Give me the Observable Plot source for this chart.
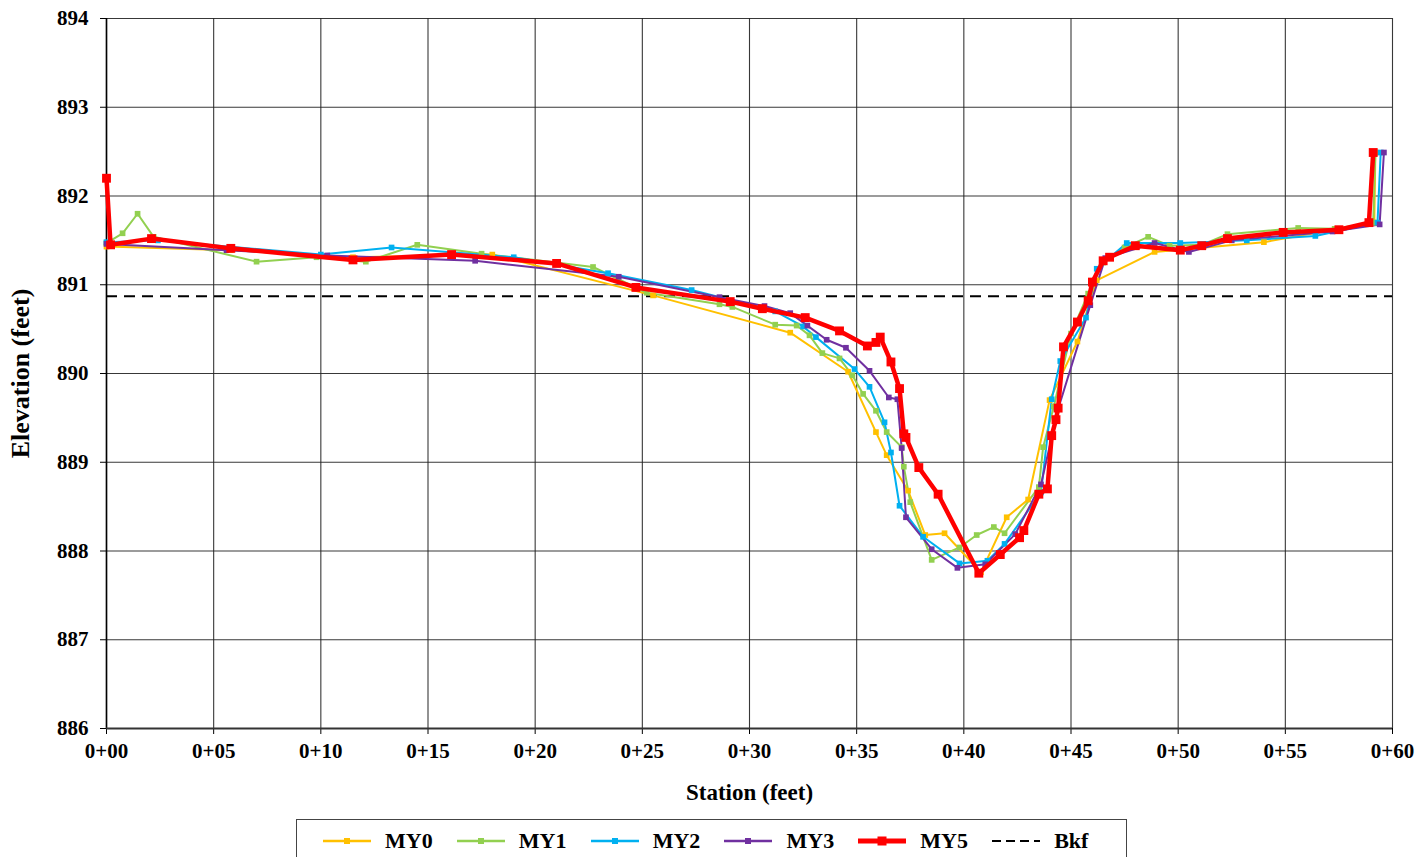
<!DOCTYPE html>
<html>
<head>
<meta charset="utf-8">
<script src="https://cdn.jsdelivr.net/npm/d3@7"></script>
<script src="https://cdn.jsdelivr.net/npm/@observablehq/plot@0.6"></script>
<style>
  html, body { margin: 0; padding: 0; background: #fff; overflow: hidden; }
  body { width: 1416px; height: 857px; font-family: "Liberation Serif", "Times New Roman", serif; }
  #chart svg { display: block; }
  #legend {
    position: absolute; left: 296px; top: 819px; width: 831px; height: 44px;
    border: 1px solid #444; box-sizing: border-box; background: #fff;
    display: flex; align-items: center; padding-left: 26px;
    font-family: "Liberation Serif", serif; font-weight: bold; font-size: 22px;
  }
  .item { display: flex; align-items: center; width: 138px; }
  .item svg { margin-right: 12px; }
</style>
</head>
<body>
<div id="chart"></div>
<div id="legend"></div>
<script>
// ---- data (station in feet, elevation in feet) ----
const my0Station = [0, 5.8, 11.5, 18.0, 25.5, 31.9, 34.6, 35.9, 36.4, 37.4, 38.2, 39.1, 40.8, 42.0, 43.0, 44.0, 45.3, 46.2, 48.9, 54.0, 59.15, 59.2];
const my0Elev    = [891.43, 891.39, 891.31, 891.34, 890.88, 890.46, 890.02, 889.34, 889.08, 888.68, 888.18, 888.20, 887.76, 888.38, 888.58, 889.70, 890.36, 891.05, 891.37, 891.48, 891.70, 892.49];

const my1Station = [0, 0.75, 1.45, 2.2, 7.0, 9.8, 12.1, 14.5, 17.5, 22.7, 25.2, 28.6, 29.2, 31.2, 32.2, 32.8, 33.4, 34.2, 34.8, 35.3, 35.9, 36.4, 37.1, 37.2, 37.5, 38.5, 39.8, 40.6, 41.4, 41.9, 43.5, 43.7, 44.2, 45.0, 45.8, 46.5, 47.5, 48.6, 49.6, 51.1, 52.3, 55.6, 57.3, 59.1, 59.2];
const my1Elev    = [891.47, 891.58, 891.80, 891.54, 891.26, 891.31, 891.26, 891.45, 891.35, 891.20, 890.91, 890.78, 890.75, 890.55, 890.54, 890.43, 890.23, 890.17, 889.98, 889.77, 889.58, 889.34, 889.17, 888.95, 888.55, 887.90, 888.04, 888.18, 888.27, 888.20, 888.72, 889.17, 889.63, 890.45, 890.90, 891.25, 891.42, 891.54, 891.44, 891.45, 891.57, 891.64, 891.63, 891.70, 892.49];

const my2Station = [0, 2.4, 10.0, 13.3, 19.0, 23.4, 27.3, 31.2, 32.5, 33.1, 34.9, 35.6, 36.3, 36.6, 37.0, 38.1, 39.8, 41.1, 41.9, 43.6, 44.1, 44.5, 45.7, 46.2, 47.6, 50.1, 53.2, 56.4, 59.3, 59.45];
const my2Elev    = [891.48, 891.50, 891.34, 891.42, 891.31, 891.13, 890.94, 890.70, 890.53, 890.41, 890.05, 889.85, 889.45, 889.11, 888.51, 888.16, 887.86, 887.89, 888.08, 888.66, 889.71, 890.14, 890.63, 891.18, 891.47, 891.47, 891.50, 891.55, 891.70, 892.49];

const my3Station = [0, 5.6, 10.3, 17.2, 23.9, 28.6, 30.7, 31.9, 32.7, 33.6, 34.5, 35.6, 36.5, 36.9, 37.1, 37.3, 38.5, 39.7, 41.0, 42.4, 43.6, 44.4, 45.9, 46.6, 48.9, 50.5, 52.5, 57.2, 59.4, 59.6];
const my3Elev    = [891.46, 891.39, 891.33, 891.27, 891.09, 890.86, 890.76, 890.68, 890.54, 890.38, 890.29, 890.03, 889.73, 889.71, 889.16, 888.38, 888.02, 887.81, 887.85, 888.19, 888.75, 889.60, 890.77, 891.30, 891.47, 891.37, 891.50, 891.60, 891.68, 892.49];

const my5Station = [0, 0.19, 2.1, 5.8, 11.5, 16.1, 21.0, 24.7, 29.1, 30.6, 32.6, 34.2, 35.5, 35.9, 36.1, 36.6, 37.0, 37.2, 37.3, 37.9, 38.8, 40.7, 41.7, 42.6, 42.8, 43.5, 43.9, 44.1, 44.3, 44.4, 44.65, 45.3, 45.8, 46.0, 46.5, 46.8, 48.0, 50.1, 51.1, 52.3, 54.9, 57.5, 58.9, 59.1];
const my5Elev    = [892.20, 891.45, 891.52, 891.41, 891.28, 891.34, 891.24, 890.97, 890.81, 890.73, 890.63, 890.48, 890.31, 890.35, 890.41, 890.13, 889.83, 889.32, 889.28, 888.94, 888.64, 887.75, 887.96, 888.15, 888.23, 888.64, 888.70, 889.30, 889.48, 889.61, 890.30, 890.58, 890.82, 891.03, 891.27, 891.31, 891.44, 891.39, 891.44, 891.52, 891.59, 891.62, 891.70, 892.49];

const bkfElevation = 890.87;

const seriesNames  = ["MY0", "MY1", "MY2", "MY3", "MY5"];
const seriesColors = ["#FFC000", "#92D050", "#00B0F0", "#7030A0", "#FF0000"];
const xTicks = [0, 5, 10, 15, 20, 25, 30, 35, 40, 45, 50, 55, 60];
const yTicks = [886, 887, 888, 889, 890, 891, 892, 893, 894];
const xTitle = "Station (feet)";
const yTitle = "Elevation (feet)";

// ---- build table ----
const stations = [my0Station, my1Station, my2Station, my3Station, my5Station];
const elevs = [my0Elev, my1Elev, my2Elev, my3Elev, my5Elev];
const rows = [];
seriesNames.forEach((name, i) => {
  stations[i].forEach((s, j) => rows.push({series: name, station: s, elevation: elevs[i][j]}));
});
const thin = rows.filter(d => d.series !== "MY5");
const bold = rows.filter(d => d.series === "MY5");
const colorOf = d3.scaleOrdinal(seriesNames, seriesColors);
const fmtStation = d => "0+" + String(d).padStart(2, "0");

const chart = Plot.plot({
  width: 1416,
  height: 820,
  marginLeft: 106,
  marginRight: 24,
  marginTop: 18,
  marginBottom: 92,
  style: {fontFamily: "'Liberation Serif', 'Times New Roman', serif", fontSize: "21px", fontWeight: "bold", color: "#000", background: "#fff", overflow: "visible"},
  x: {domain: [0, 60], ticks: xTicks, tickFormat: fmtStation, label: null, tickSize: 6, tickPadding: 9},
  y: {domain: [886, 894], ticks: yTicks, tickFormat: d => String(d), label: null, tickSize: 6, tickPadding: 12},
  marks: [
    Plot.gridX(xTicks, {stroke: "#222", strokeOpacity: 0.9, strokeWidth: 1.1}),
    Plot.gridY(yTicks, {stroke: "#222", strokeOpacity: 0.9, strokeWidth: 1.1}),
    Plot.ruleX([0], {stroke: "#000", strokeWidth: 1.6}),
    Plot.ruleY([886], {stroke: "#333", strokeWidth: 2}),
    Plot.ruleY([bkfElevation], {stroke: "#000", strokeWidth: 2, strokeDasharray: "11,7"}),
    Plot.line(thin, {x: "station", y: "elevation", z: "series", stroke: d => colorOf(d.series), strokeWidth: 2}),
    Plot.dot(thin, {x: "station", y: "elevation", symbol: "square", r: 3.2, fill: d => colorOf(d.series), stroke: "none"}),
    Plot.line(bold, {x: "station", y: "elevation", stroke: colorOf("MY5"), strokeWidth: 4.5}),
    Plot.dot(bold, {x: "station", y: "elevation", symbol: "square", r: 5, fill: colorOf("MY5"), stroke: "none"}),
    Plot.text([xTitle], {frameAnchor: "bottom", dy: 71, text: d => d, fontSize: 23, fontWeight: "bold", fill: "#000"}),
    Plot.text([yTitle], {frameAnchor: "left", textAnchor: "middle", dx: -86, rotate: -90, text: d => d, fontSize: 26, fontWeight: "bold", fill: "#000"})
  ]
});
document.getElementById("chart").appendChild(chart);

// ---- legend ----
const legend = document.getElementById("legend");
const legendItems = [
  ...seriesNames.map((n, i) => ({name: n, color: seriesColors[i], w: n === "MY5" ? 5 : 2.5, sq: n === "MY5" ? 9 : 6, dash: null})),
  {name: "Bkf", color: "#000", w: 2, sq: 0, dash: "9,5"}
];
legendItems.forEach(it => {
  const el = document.createElement("div");
  el.className = "item";
  const sqEl = it.sq ? `<rect x="${24 - it.sq / 2}" y="${10 - it.sq / 2}" width="${it.sq}" height="${it.sq}" fill="${it.color}"/>` : "";
  el.innerHTML = `<svg width="50" height="20"><line x1="0" x2="48" y1="10" y2="10" stroke="${it.color}" stroke-width="${it.w}" ${it.dash ? `stroke-dasharray="${it.dash}"` : ""}/>${sqEl}</svg><span>${it.name}</span>`;
  legend.appendChild(el);
});
</script>
</body>
</html>
